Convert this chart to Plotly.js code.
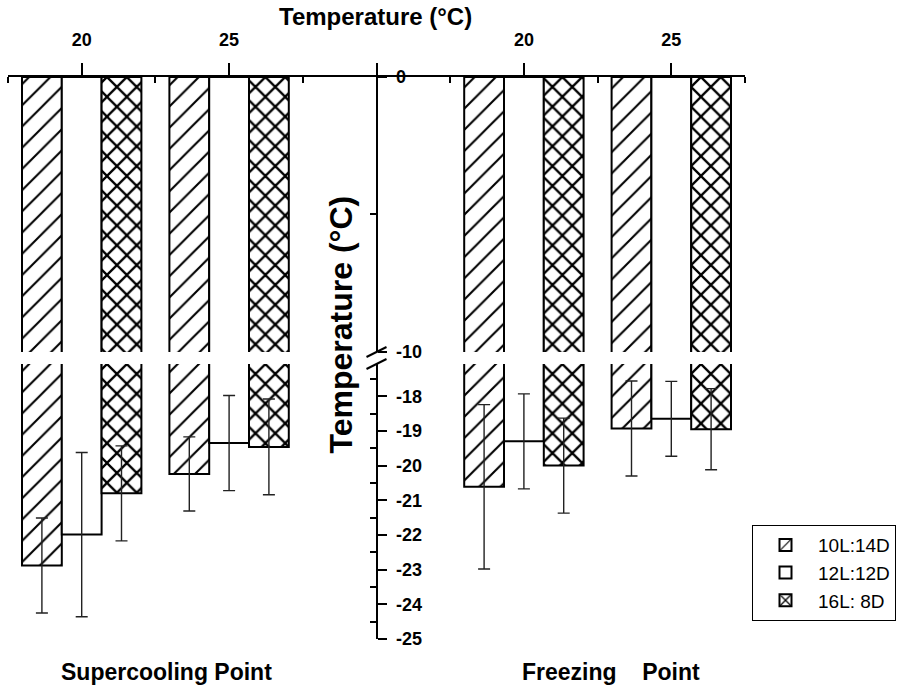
<!DOCTYPE html>
<html><head><meta charset="utf-8">
<script src="https://cdn.plot.ly/plotly-3.0.1.min.js"></script>
<style>html,body{margin:0;padding:0;background:#fff}</style>
</head><body><div id="chart" style="width:897px;height:689px"></div>
<script>
// ---- data ----
const seriesNames = ['10L:14D', '12L:12D', '16L: 8D'];
const temperatures = [20, 25];
const xTickVals = [20, 25, 30, 35, 40];
const xTickText = ['20', '25', '', '20', '25'];
const yLowerTicks = [-18, -19, -20, -21, -22, -23, -24, -25];
const yLowerText = ['-18', '-19', '-20', '-21', '-22', '-23', '-24', '-25'];
const yUpperTicks = [0, -10];
const yUpperText = ['0', '-10'];

// Supercooling point (mean, error)
const scp_10L14D = [-22.88, -20.24];
const scp_10L14D_err = [1.37, 1.07];
const scp_12L12D = [-21.99, -19.35];
const scp_12L12D_err = [2.37, 1.37];
const scp_16L8D = [-20.80, -19.46];
const scp_16L8D_err = [1.37, 1.38];

// Freezing point (mean, error)
const fp_10L14D = [-20.61, -18.93];
const fp_10L14D_err = [2.37, 1.37];
const fp_12L12D = [-19.30, -18.65];
const fp_12L12D_err = [1.37, 1.08];
const fp_16L8D = [-20.00, -18.95];
const fp_16L8D_err = [1.37, 1.17];

// ---- layout helpers ----
const fpShift = 15; // right panel is drawn 15 units to the right on the shared axis
const FONT = 'Liberation Sans, Arial, sans-serif';
const patternShapes = ['/', '', 'x'];
const patternSizes = [15, 10, 14];
const patternSolidity = [0.14, 0.1, 0.3];

const means = [
  scp_10L14D.concat(fp_10L14D),
  scp_12L12D.concat(fp_12L12D),
  scp_16L8D.concat(fp_16L8D)
];
const errs = [
  scp_10L14D_err.concat(fp_10L14D_err),
  scp_12L12D_err.concat(fp_12L12D_err),
  scp_16L8D_err.concat(fp_16L8D_err)
];
const xs = temperatures.concat(temperatures.map(t => t + fpShift));

const traces = [];
seriesNames.forEach((name, i) => {
  const marker = {
    color: 'white',
    line: {color: 'black', width: 2},
    pattern: {shape: patternShapes[i], fgcolor: 'black', bgcolor: 'white',
              size: patternSizes[i], solidity: patternSolidity[i], fillmode: 'replace'}
  };
  traces.push({
    type: 'bar', name: name, x: xs, y: means[i], xaxis: 'x', yaxis: 'y',
    legendgroup: 'g' + i, showlegend: true, marker: marker,
    error_y: {type: 'data', array: errs[i], visible: true, color: '#222',
              thickness: 1.4, width: 6},
    hoverinfo: 'skip'
  });
  traces.push({
    type: 'bar', name: name, x: xs, y: means[i], xaxis: 'x', yaxis: 'y2',
    legendgroup: 'g' + i, showlegend: false, marker: marker, hoverinfo: 'skip'
  });
});

const brk = (dy) => ({
  type: 'line', xref: 'x', xsizemode: 'pixel', xanchor: 30,
  yref: 'paper', ysizemode: 'pixel', yanchor: 0.5,
  x0: -10, x1: 10, y0: dy - 5, y1: dy + 5,
  line: {color: 'black', width: 2}
});

const layout = {
  width: 897, height: 689,
  margin: {l: 8, r: 152, t: 77, b: 50, pad: 0, autoexpand: false},
  paper_bgcolor: 'white', plot_bgcolor: 'rgba(0,0,0,0)',
  barmode: 'group', bargap: 0.19, bargroupgap: 0,
  font: {family: FONT, color: 'black'},
  showlegend: true,
  legend: {x: 1.0095, y: 0.2028, xanchor: 'left', yanchor: 'top',
           bordercolor: 'black', borderwidth: 1, bgcolor: 'white', itemwidth: 55,
           font: {size: 19, family: FONT}, tracegroupgap: 16, traceorder: 'normal'},
  xaxis: {
    domain: [0, 1], range: [17.5, 42.5], side: 'top', anchor: 'y2',
    tickmode: 'array', tickvals: xTickVals, ticktext: xTickText,
    ticks: 'outside', ticklen: 12, tickwidth: 2, tickcolor: 'black',
    ticklabelstandoff: 10,
    minor: {tickmode: 'linear', tick0: 17.5, dtick: 5, ticks: 'inside', ticklen: 6,
            tickwidth: 2, tickcolor: 'black', showgrid: false},
    showline: true, linewidth: 2, linecolor: 'black',
    showgrid: false, zeroline: false, fixedrange: true,
    tickfont: {size: 18, family: FONT, weight: 'bold'}
  },
  yaxis2: {
    domain: [0.5107, 1], range: [-10, 0], anchor: 'free', position: 0.5, side: 'right',
    tickmode: 'array', tickvals: yUpperTicks, ticktext: yUpperText,
    ticks: 'outside', ticklen: 9, tickwidth: 2, tickcolor: 'black',
    ticklabelstandoff: 6,
    minor: {tickmode: 'array', tickvals: [-5], ticks: 'inside', ticklen: 6,
            tickwidth: 2, tickcolor: 'black', showgrid: false},
    showline: true, linewidth: 2, linecolor: 'black',
    showgrid: false, zeroline: false, fixedrange: true,
    tickfont: {size: 18, family: FONT, weight: 'bold'}
  },
  yaxis: {
    domain: [0, 0.4893], range: [-25, -17.07], anchor: 'free', position: 0.5, side: 'right',
    tickmode: 'array', tickvals: yLowerTicks, ticktext: yLowerText,
    ticks: 'outside', ticklen: 9, tickwidth: 2, tickcolor: 'black',
    ticklabelstandoff: 6,
    minor: {tickmode: 'linear', tick0: -17.5, dtick: 1, ticks: 'inside', ticklen: 6,
            tickwidth: 2, tickcolor: 'black', showgrid: false},
    showline: true, linewidth: 2, linecolor: 'black',
    showgrid: false, zeroline: false, fixedrange: true,
    tickfont: {size: 18, family: FONT, weight: 'bold'}
  },
  shapes: [brk(6), brk(-6)],
  annotations: [
    {text: 'Temperature (°C)', xref: 'paper', yref: 'paper', x: 0.498, y: 1.1085,
     xanchor: 'center', yanchor: 'middle', showarrow: false,
     font: {size: 24, family: FONT, weight: 'bold'}},
    {text: 'Temperature (°C)', xref: 'paper', yref: 'paper', x: 0.452, y: 0.56,
     xanchor: 'center', yanchor: 'middle', showarrow: false, textangle: -90,
     font: {size: 32, family: FONT, weight: 'bold'}},
    {text: 'Supercooling Point', xref: 'paper', yref: 'paper', x: 0.2144, y: -0.0587,
     xanchor: 'center', yanchor: 'middle', showarrow: false,
     font: {size: 23, family: FONT, weight: 'bold'}},
    {text: 'Freezing\u00a0\u00a0\u00a0 Point', xref: 'paper', yref: 'paper', x: 0.818, y: -0.0587,
     xanchor: 'center', yanchor: 'middle', showarrow: false,
     font: {size: 23, family: FONT, weight: 'bold'}}
  ]
};

Plotly.newPlot('chart', traces, layout, {displayModeBar: false, staticPlot: true});
</script></body></html>
